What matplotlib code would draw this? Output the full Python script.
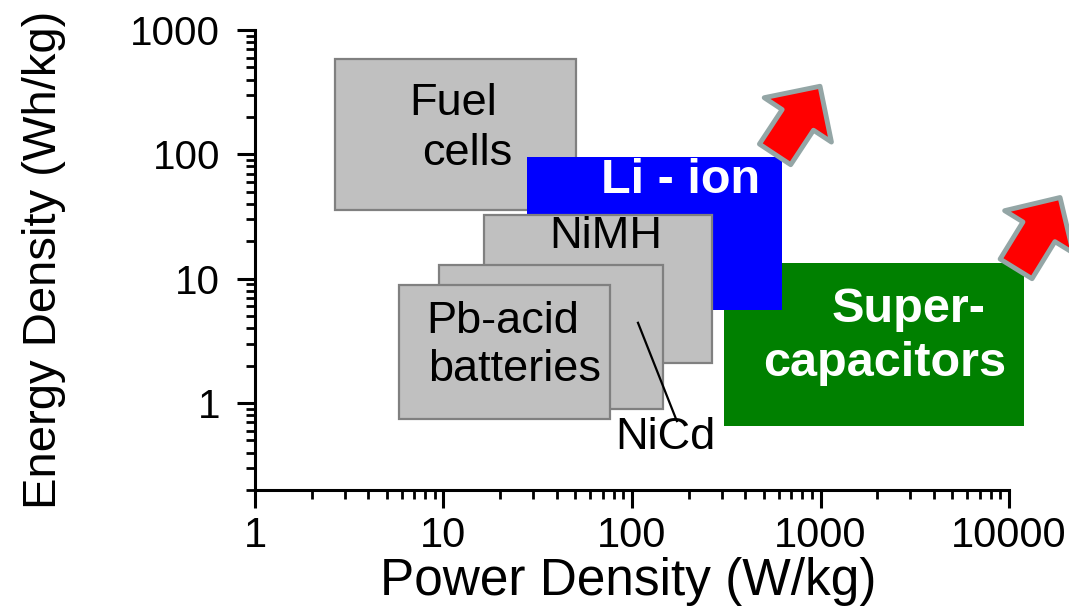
import matplotlib
matplotlib.use("Agg")
import matplotlib.pyplot as plt
from matplotlib.patches import Rectangle

plt.rcParams['font.family'] = ['Liberation Sans', 'DejaVu Sans']

# ranges of each storage technology (W/kg, Wh/kg), drawn back to front
techs = ["Supercapacitors", "Fuel cells", "Li-ion", "NiMH", "NiCd", "Pb-acid"]
p_lo = [308, 2.66, 27.7, 16.4, 9.46, 5.81]
p_hi = [12000, 50.5, 625, 266, 146, 76.3]
e_lo = [0.652, 35.4, 5.62, 2.10, 0.895, 0.743]
e_hi = [13.4, 584, 94.6, 32.8, 13.0, 8.95]
box_fc = ["#008000", "#c0c0c0", "#0000ff", "#c0c0c0", "#c0c0c0", "#c0c0c0"]
box_ec = ["none", "#808080", "none", "#808080", "#808080", "#808080"]

# text labels (text, x, y at baseline)
lab_txt = ["Fuel", "cells", "NiMH", "Pb-acid", "batteries", "NiCd"]
lab_x = [11.2, 13.3, 72.8, 20.7, 23.8, 151]
lab_y = [206, 81.5, 17.5, 3.67, 1.50, 0.426]
bold_txt = ["Li - ion", "Super-", "capacitors"]
bold_x = [182, 2930, 2199]
bold_y = [48.5, 4.5, 1.65]

# NiCd leader line
lead_x = [107.6, 173]
lead_y = [4.42, 0.716]

# trend arrows (tail, tip)
arr_tail = [(574, 100), (10900, 12.0)]
arr_tip = [(994, 353), (18650, 45.0)]

xticks = [1, 10, 100, 1000, 10000]
yticks = [1, 10, 100, 1000]

fig = plt.figure(figsize=(10.69, 6.13), dpi=100)
ax = fig.add_axes([0.2385, 0.2007, 0.7054, 0.7503])
ax.set_xscale("log")
ax.set_yscale("log")
ax.set_xlim(1, 10000)
ax.set_ylim(0.2, 1000)

for i in range(len(techs)):
    r = Rectangle((p_lo[i], e_lo[i]), p_hi[i] - p_lo[i], e_hi[i] - e_lo[i],
                  facecolor=box_fc[i], edgecolor=box_ec[i], linewidth=1.6,
                  clip_on=False, zorder=2 + i * 0.1)
    ax.add_patch(r)

for t, x, y in zip(lab_txt, lab_x, lab_y):
    ax.text(x, y, t, fontsize=32.5, ha="center", va="baseline", color="black", zorder=5)
for t, x, y in zip(bold_txt, bold_x, bold_y):
    ax.text(x, y, t, fontsize=35, ha="center", va="baseline", color="white",
            fontweight="bold", zorder=5, clip_on=False)

ax.plot(lead_x, lead_y, color="black", lw=1.6, zorder=4)

for tail, tip in zip(arr_tail, arr_tip):
    ax.annotate("", xy=tip, xytext=tail, annotation_clip=False,
                arrowprops=dict(arrowstyle="simple,head_length=29,head_width=58,tail_width=27",
                                mutation_scale=1, shrinkA=0, shrinkB=0,
                                fc="#ff0000", ec="#94a6a6", lw=3.5),
                zorder=6)

for s in ["top", "right"]:
    ax.spines[s].set_visible(False)
for s in ["left", "bottom"]:
    ax.spines[s].set_linewidth(2.2)

ax.set_xticks(xticks)
ax.set_xticklabels([str(v) for v in xticks])
ax.set_yticks(yticks)
ax.set_yticklabels([str(v) for v in yticks])
ax.tick_params(which="major", direction="out", length=13, width=2.2)
ax.tick_params(which="minor", direction="out", length=6.5, width=2.0)
ax.tick_params(axis="x", which="major", pad=6, labelsize=30)
ax.tick_params(axis="y", which="major", pad=12, labelsize=29)

ax.set_xlabel("Power Density (W/kg)", fontsize=37)
ax.set_ylabel("Energy Density (Wh/kg)", fontsize=34)
ax.xaxis.set_label_coords(0.495, -0.145)
ax.yaxis.set_label_coords(-0.25, 0.5)

fig.savefig("out.png", dpi=100)
